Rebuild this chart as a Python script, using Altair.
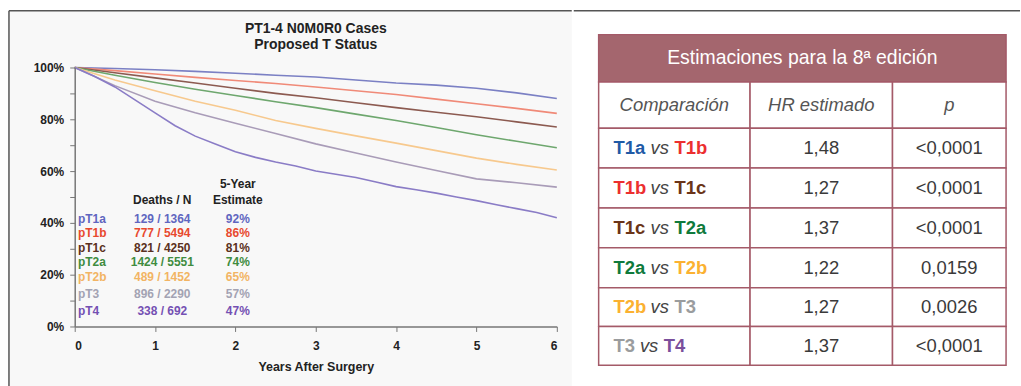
import altair as alt
import pandas as pd

# ---------------- survival curves ----------------
groups = ["pT1a", "pT1b", "pT1c", "pT2a", "pT2b", "pT3", "pT4"]
t_half = [0, 0.5, 1, 1.5, 2, 2.5, 3, 3.5, 4, 4.5, 5, 5.5, 6]
s_T1a = [100, 99.6, 99.1, 98.5, 97.8, 97.0, 96.3, 95.2, 94.0, 93.2, 92.0, 90.2, 88.0]
s_T1b = [100, 98.8, 97.5, 96.2, 95.0, 93.8, 92.5, 91.0, 89.6, 87.8, 86.0, 84.2, 82.3]
s_T1c = [100, 98.0, 96.0, 94.0, 92.0, 90.0, 88.3, 86.4, 84.5, 82.7, 81.0, 79.0, 77.0]
s_T2a = [100, 97.0, 94.2, 91.6, 89.2, 86.8, 84.5, 82.0, 79.5, 76.8, 74.0, 71.5, 69.0]
s_T2b = [100, 95.2, 91.0, 87.0, 83.5, 79.5, 76.5, 73.6, 70.8, 67.9, 65.0, 62.6, 60.4]
s_T3 = [100, 93.0, 87.0, 82.5, 78.5, 74.5, 70.5, 67.0, 63.5, 60.2, 57.0, 55.5, 53.8]
t_quarter = [0, 0.25, 0.5, 0.75, 1, 1.25, 1.5, 1.75, 2, 2.25, 2.5, 2.75, 3,
             3.25, 3.5, 3.75, 4, 4.25, 4.5, 4.75, 5, 5.25, 5.5, 5.75, 6]
s_T4 = [100, 96.5, 92.5, 87.5, 82.5, 77.5, 73.5, 70.5, 67.5, 65.3, 63.5, 62.0, 60.0,
        58.8, 57.5, 55.8, 54.0, 52.8, 51.5, 50.0, 48.6, 47.0, 45.5, 44.0, 42.0]

deaths_n = ["129 / 1364", "777 / 5494", "821 / 4250", "1424 / 5551",
            "489 / 1452", "896 / 2290", "338 / 692"]
five_year = ["92%", "86%", "81%", "74%", "65%", "57%", "47%"]
legend_heads = ["Deaths / N", "5-Year", "Estimate"]
chart_title = ["PT1-4 N0M0R0 Cases", "Proposed T Status"]
x_title = "Years After Surgery"

# ---------------- comparison table ----------------
comp_left = ["T1a", "T1b", "T1c", "T2a", "T2b", "T3"]
comp_right = ["T1b", "T1c", "T2a", "T2b", "T3", "T4"]
hr_values = ["1,48", "1,27", "1,37", "1,22", "1,27", "1,37"]
p_values = ["<0,0001", "<0,0001", "<0,0001", "0,0159", "0,0026", "<0,0001"]
table_title = "Estimaciones para la 8ª edición"
col_titles = ["Comparación", "HR estimado", "p"]

# ---------------- styles / layout ----------------
line_colors = ["#7b80c4", "#f08a78", "#8c5a50", "#6ea76e", "#f7c98e", "#a99cb8", "#8a7cc6"]
legend_text_colors = ["#5f66c0", "#e8492e", "#5a3020", "#3f8c3f", "#f2b463", "#a3a3b3", "#7450b3"]
t_colors = {"T1a": "#1f5aa6", "T1b": "#ec2f2f", "T1c": "#6b3418", "T2a": "#0f7a3c",
            "T2b": "#fbb131", "T3": "#9a9c9e", "T4": "#7a4f9c"}
legend_rows_y = [41.5, 36.2, 30.4, 25.0, 19.2, 12.7, 5.8]
legend_cols_x = [0.04, 1.09, 2.03]
legend_head_y = [55.0, 48.8]
FONT = "Liberation Sans"
MAUVE = "#a4666e"
BORDER = "#a45a68"
FRAME = "#555555"

# ---------------- build survival frame ----------------
rows = []
for g, s in zip(groups[:6], [s_T1a, s_T1b, s_T1c, s_T2a, s_T2b, s_T3]):
    for t, v in zip(t_half, s):
        rows.append({"group": g, "t": t, "s": v})
for t, v in zip(t_quarter, s_T4):
    rows.append({"group": "pT4", "t": t, "s": v})
surv = pd.DataFrame(rows)

leg = pd.DataFrame({"name": groups, "dn": deaths_n, "est": five_year,
                    "ly": legend_rows_y, "tc": legend_text_colors})

W, H = 484, 260
xs = alt.Scale(domain=[0, 6], nice=False)
ys = alt.Scale(domain=[0, 100], nice=False)

X_AXIS = alt.Axis(values=[0, 1, 2, 3, 4, 5, 6], format="d", grid=False, zindex=2,
                  domainColor="#777", domainWidth=1.5, tickColor="#777",
                  tickSize=5, labelPadding=9, labelFont=FONT, labelFontSize=12,
                  labelFontWeight="bold", labelColor="#222", titleFont=FONT,
                  titleFontSize=12.5, titleFontWeight="bold", titleColor="#222",
                  titlePadding=9)
Y_AXIS = alt.Axis(values=list(range(0, 101, 10)), grid=False, zindex=2,
                  labelExpr="datum.value % 20 == 0 ? datum.value + '%' : ''",
                  domainColor="#777", domainWidth=1.5, tickColor="#777",
                  tickSize=5, labelPadding=6, labelFont=FONT, labelFontSize=12,
                  labelFontWeight="bold", labelColor="#222")

one = pd.DataFrame({"a": [0]})

bg = alt.Chart(one).mark_rect(color="#f8f8f8").encode(
    x=alt.value(-66), x2=alt.value(499), y=alt.value(-57), y2=alt.value(320))

lines = alt.Chart(surv).mark_line(strokeWidth=1.6).encode(
    x=alt.X("t:Q", scale=xs, title=x_title, axis=X_AXIS),
    y=alt.Y("s:Q", scale=ys, title=None, axis=Y_AXIS),
    color=alt.Color("group:N", scale=alt.Scale(domain=groups, range=line_colors), legend=None),
)


def legend_text(field, xval, align):
    return alt.Chart(leg).mark_text(align=align, baseline="middle", font=FONT,
                                    fontSize=12, fontWeight="bold").encode(
        x=alt.X("xx:Q", scale=xs, title=x_title, axis=X_AXIS),
        y=alt.Y("ly:Q", scale=ys, title=None, axis=Y_AXIS),
        text=alt.Text(f"{field}:N"), color=alt.Color("tc:N", scale=None)
    ).transform_calculate(xx=str(xval))


names = legend_text("name", legend_cols_x[0], "left")
dns = legend_text("dn", legend_cols_x[1], "center")
ests = legend_text("est", legend_cols_x[2], "center")

heads = pd.DataFrame({"txt": legend_heads,
                      "hx": [legend_cols_x[1], legend_cols_x[2], legend_cols_x[2]],
                      "hy": [legend_head_y[1], legend_head_y[0], legend_head_y[1]]})
head_txt = alt.Chart(heads).mark_text(font=FONT, fontSize=12, fontWeight="bold",
                                      color="#222", baseline="middle").encode(
    x=alt.X("hx:Q", scale=xs, title=x_title, axis=X_AXIS),
    y=alt.Y("hy:Q", scale=ys, title=None, axis=Y_AXIS), text="txt:N")

title_mark = alt.Chart(pd.DataFrame({"txt": ["\n".join(chart_title)]})).mark_text(
    font=FONT, fontSize=14, fontWeight="bold", color="#222", baseline="top",
    lineBreak="\n", lineHeight=16).encode(
    x=alt.value(W / 2), y=alt.value(-46), text="txt:N")

frame_v = alt.Chart(one).mark_rule(color=FRAME, strokeWidth=1.5).encode(
    x=alt.value(-66), y=alt.value(-57), y2=alt.value(320))
frame_h = alt.Chart(one).mark_rule(color=FRAME, strokeWidth=1.5).encode(
    x=alt.value(-66), x2=alt.value(499), y=alt.value(-57))

left = alt.layer(bg, lines, names, dns, ests, head_txt, title_mark, frame_v, frame_h
                 ).properties(width=W, height=H)

# ---------------- table chart ----------------
TW, TH = 448, 260
Y0 = 57  # table units above the shared plot origin
col_edges = [25, 177, 320, 434]
row_edges = [24, 71.5, 118, 158, 198, 238, 278, 317, 356]
col_centers = [(col_edges[i] + col_edges[i + 1]) / 2 for i in range(3)]
row_centers = [(row_edges[i] + row_edges[i + 1]) / 2 for i in range(8)]
txs = alt.Scale(domain=[0, TW], nice=False, zero=False)
tys = alt.Scale(domain=[Y0, Y0 + TH], nice=False, zero=False, reverse=True)

cells = [{"x": col_edges[0], "x2": col_edges[3], "y": row_edges[0], "y2": row_edges[1], "f": MAUVE}]
for r in range(1, 8):
    for c in range(3):
        cells.append({"x": col_edges[c], "x2": col_edges[c + 1],
                      "y": row_edges[r], "y2": row_edges[r + 1], "f": "#ffffff"})
cells = pd.DataFrame(cells)
cell_marks = alt.Chart(cells).mark_rect(stroke=BORDER, strokeWidth=1.5).encode(
    x=alt.X("x:Q", scale=txs, axis=None), x2="x2:Q",
    y=alt.Y("y:Q", scale=tys, axis=None), y2="y2:Q",
    fill=alt.Fill("f:N", scale=None))

title_df = pd.DataFrame({"txt": [table_title], "x": [(col_edges[0] + col_edges[3]) / 2],
                         "y": [row_centers[0]]})
ttl_mark = alt.Chart(title_df).mark_text(font=FONT, fontSize=19.5, color="white",
                                         baseline="middle").encode(
    x=alt.X("x:Q", scale=txs, axis=None), y=alt.Y("y:Q", scale=tys, axis=None), text="txt:N")

colh_df = pd.DataFrame({"txt": col_titles, "x": col_centers, "y": [row_centers[1]] * 3})
colh_mark = alt.Chart(colh_df).mark_text(font=FONT, fontSize=18.5, fontStyle="italic",
                                         color="#555", baseline="middle").encode(
    x=alt.X("x:Q", scale=txs, axis=None), y=alt.Y("y:Q", scale=tys, axis=None), text="txt:N")

vals = []
for i in range(6):
    vals.append({"txt": hr_values[i], "x": col_centers[1], "y": row_centers[i + 2]})
    vals.append({"txt": p_values[i], "x": col_centers[2], "y": row_centers[i + 2]})
vals_mark = alt.Chart(pd.DataFrame(vals)).mark_text(font=FONT, fontSize=18.5, color="#3a3a3a",
                                                    baseline="middle").encode(
    x=alt.X("x:Q", scale=txs, axis=None), y=alt.Y("y:Q", scale=tys, axis=None), text="txt:N")

LX = 40
parts, vs_rows = [], []
for i in range(6):
    x_vs = LX + len(comp_left[i]) * 10.7 + 5
    x_r = x_vs + 24
    parts.append({"txt": comp_left[i], "x": LX, "y": row_centers[i + 2], "c": t_colors[comp_left[i]]})
    parts.append({"txt": comp_right[i], "x": x_r, "y": row_centers[i + 2], "c": t_colors[comp_right[i]]})
    vs_rows.append({"txt": "vs", "x": x_vs, "y": row_centers[i + 2]})
parts_mark = alt.Chart(pd.DataFrame(parts)).mark_text(font=FONT, fontSize=18.5, fontWeight="bold",
                                                      align="left", baseline="middle").encode(
    x=alt.X("x:Q", scale=txs, axis=None), y=alt.Y("y:Q", scale=tys, axis=None), text="txt:N",
    color=alt.Color("c:N", scale=None))
vs_mark = alt.Chart(pd.DataFrame(vs_rows)).mark_text(font=FONT, fontSize=18.5, fontStyle="italic",
                                                    color="#444", align="left", baseline="middle").encode(
    x=alt.X("x:Q", scale=txs, axis=None), y=alt.Y("y:Q", scale=tys, axis=None), text="txt:N")

top_rule = alt.Chart(one).mark_rule(color=FRAME, strokeWidth=1.5).encode(
    x=alt.value(0), x2=alt.value(TW), y=alt.value(-Y0))

table = alt.layer(cell_marks, ttl_mark, colh_mark, vals_mark, parts_mark, vs_mark, top_rule
                  ).properties(width=TW, height=TH)

chart = alt.hconcat(left, table, spacing=0).properties(
    padding={"left": 8, "top": 9, "right": 0, "bottom": 0},
    background="white",
).configure_view(stroke=None)

chart.save("out.html", embed_options={"renderer": "svg", "actions": False})
